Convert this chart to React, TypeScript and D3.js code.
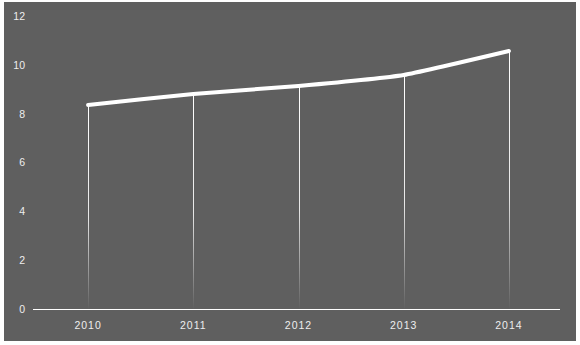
import React from "react";
import * as d3 from "d3";

const categories = ["2010", "2011", "2012", "2013", "2014"];
const values = [8.36, 8.81, 9.14, 9.59, 10.57];
const yTicks = [0, 2, 4, 6, 8, 10, 12];

export default function App() {
  const W = 580, H = 345;
  const x = d3.scaleBand().domain(categories).range([35.5, 561.5]);
  const y = d3.scaleLinear().domain([0, 12]).range([309.5, 16]);
  const cx = (c: string) => (x(c) as number) + x.bandwidth() / 2;
  const line = d3
    .line<number>()
    .x((_, i) => cx(categories[i]))
    .y((d) => y(d))
    .curve(d3.curveCardinal.tension(0.6));
  const font = "'Liberation Sans', Arial, sans-serif";
  return (
    <svg width={W} height={H} style={{ position: "absolute", left: 0, top: 0 }}>
      <defs>
        <linearGradient id="drop" x1="0" y1="0" x2="0" y2="1">
          <stop offset="0%" stopColor="#ffffff" stopOpacity={1} />
          <stop offset="55%" stopColor="#ffffff" stopOpacity={0.85} />
          <stop offset="100%" stopColor="#ffffff" stopOpacity={0} />
        </linearGradient>
      </defs>
      <rect x={0} y={0} width={W} height={H} fill="#ffffff" />
      <rect x={4} y={2} width={572} height={339} fill="#5f5f5f" />
      {yTicks.map((t) => (
        <text
          key={t}
          x={25}
          y={y(t)}
          dy="0.35em"
          textAnchor="end"
          fill="#eeeeee"
          fontSize={10.5}
          fontFamily={font}
        >
          {t}
        </text>
      ))}
      {values.map((v, i) => {
        const px = Math.round(cx(categories[i])) + 0.5;
        return (
          <rect
            key={i}
            x={px - 0.5}
            y={y(v)}
            width={1}
            height={y(0) - y(v)}
            fill="url(#drop)"
          />
        );
      })}
      <line x1={33} x2={560} y1={y(0)} y2={y(0)} stroke="#ffffff" strokeWidth={1} />
      {categories.map((c) => (
        <text
          key={c}
          x={cx(c)}
          y={328.5}
          textAnchor="middle"
          fill="#eeeeee"
          fontSize={10.5}
          letterSpacing={1}
          fontFamily={font}
        >
          {c}
        </text>
      ))}
      <path
        d={line(values) || ""}
        fill="none"
        stroke="#ffffff"
        strokeWidth={4}
        strokeLinecap="round"
        strokeLinejoin="round"
      />
    </svg>
  );
}
